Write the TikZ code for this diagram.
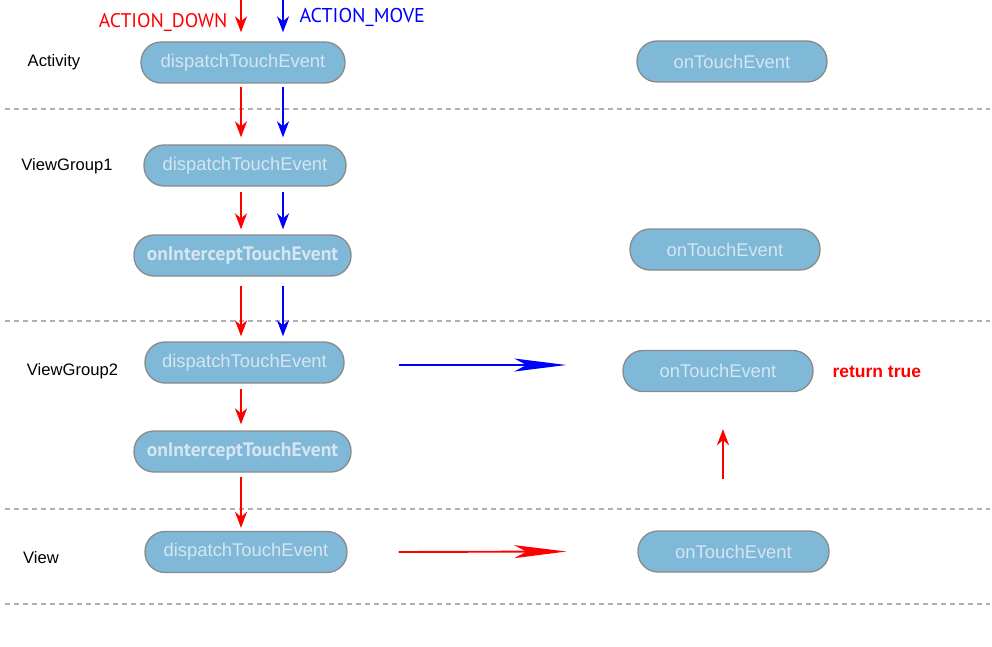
\documentclass[tikz,border=0pt]{standalone}
\usepackage{fontspec}
\setmainfont{Liberation Sans}
\newfontfamily\actfont{PT Sans}
\usetikzlibrary{arrows.meta,calc}
\definecolor{nodefill}{HTML}{80B8D8}
\definecolor{nodetext}{HTML}{D4E6F2}
\definecolor{nodeedge}{HTML}{8A8A8A}
\definecolor{dashgray}{HTML}{B0B0B0}
\definecolor{myred}{HTML}{FF0000}
\definecolor{myblue}{HTML}{0000FF}
\begin{document}
\begin{tikzpicture}[x=1pt,y=-1pt,
  method/.style={draw=nodeedge,line width=1.3pt,fill=nodefill,rounded corners=20pt,
    text=nodetext,font=\fontsize{18.4}{20}\selectfont,minimum height=41pt,inner sep=0pt},
  boldmethod/.style={method,font=\actfont\bfseries\fontsize{19.5}{20}\selectfont},
  layer/.style={font=\fontsize{16.6}{18}\selectfont,text=black},
  sep/.style={draw=dashgray,line width=1.1pt,dash pattern=on 5pt off 4pt},
  vred/.style={draw=myred,line width=1.9pt,-{Stealth[length=16pt,width=12pt,inset=5pt]}},
  vblue/.style={draw=myblue,line width=1.9pt,-{Stealth[length=16pt,width=12pt,inset=5pt]}},
  hred/.style={draw=myred,line width=1.9pt,-{Stealth[length=52pt,width=13pt,inset=12pt]}},
  hblue/.style={draw=myblue,line width=1.9pt,-{Stealth[length=52pt,width=13pt,inset=12pt]}},
]
\useasboundingbox (0,0) rectangle (992,647);

% separators
\draw[sep] (5,109) -- (990,109);
\draw[sep] (5,321) -- (990,321);
\draw[sep] (5,509) -- (990,509);
\draw[sep] (5,604) -- (990,604);

% layer labels
\node[layer] (lA) at (54,62) {Activity};
\node[layer] (lG1) at (67,166) {ViewGroup1};
\node[layer] (lG2) at (72.5,371) {ViewGroup2};
\node[layer] (lV) at (41,558) {View};

% nodes
\node[method,minimum width=204pt] (aD) at (243,62.5) {dispatchTouchEvent};
\node[method,minimum width=190pt] (aT) at (732,61.5) {onTouchEvent};
\node[method,minimum width=202pt] (g1D) at (245,165.5) {dispatchTouchEvent};
\node[boldmethod,minimum width=217pt] (g1I) at (242.5,255.5) {onInterceptTouchEvent};
\node[method,minimum width=190pt] (g1T) at (725,249.5) {onTouchEvent};
\node[method,minimum width=199pt] (g2D) at (244.5,362.5) {dispatchTouchEvent};
\node[boldmethod,minimum width=217pt] (g2I) at (242.5,451.5) {onInterceptTouchEvent};
\node[method,minimum width=190pt] (g2T) at (718,371) {onTouchEvent};
\node[method,minimum width=202pt] (vD) at (246,552) {dispatchTouchEvent};
\node[method,minimum width=191pt] (vT) at (733.5,551.5) {onTouchEvent};

% texts
\node[font=\actfont\fontsize{19.7}{20}\selectfont,text=myred,anchor=east] (tDown) at (231,23) {ACTION\_DOWN};
\node[font=\actfont\fontsize{20}{20}\selectfont,text=myblue,anchor=west] (tMove) at (296,17) {ACTION\_MOVE};
\node[font=\bfseries\fontsize{17.5}{18}\selectfont,text=myred,anchor=west] (ret) at (829,371.5) {return true};

% arrow columns
\coordinate (rx) at (241,0);
\coordinate (bx) at (283,0);

\draw[vred]  (rx) -- ($(aD.north -| rx)+(0,-9)$);
\draw[vblue] (bx) -- ($(aD.north -| bx)+(0,-9)$);
\draw[vred]  ($(aD.south -| rx)+(0,3)$) -- ($(g1D.north -| rx)+(0,-7)$);
\draw[vblue] ($(aD.south -| bx)+(0,3)$) -- ($(g1D.north -| bx)+(0,-7)$);
\draw[vred]  ($(g1D.south -| rx)+(0,5)$) -- ($(g1I.north -| rx)+(0,-5)$);
\draw[vblue] ($(g1D.south -| bx)+(0,5)$) -- ($(g1I.north -| bx)+(0,-5)$);
\draw[vred]  ($(g1I.south -| rx)+(0,9)$) -- ($(g2D.north -| rx)+(0,-5)$);
\draw[vblue] ($(g1I.south -| bx)+(0,9)$) -- ($(g2D.north -| bx)+(0,-5)$);
\draw[vred]  ($(g2D.south -| rx)+(0,5)$) -- ($(g2I.north -| rx)+(0,-6)$);
\draw[vred]  ($(g2I.south -| rx)+(0,4)$) -- ($(vD.north -| rx)+(0,-3)$);

% horizontal arrows
\coordinate (hb) at (0,365);
\draw[hblue] ($(g2D.east |- hb)+(54,0)$) -- ($(g2T.west |- hb)+(-56,0)$);
\draw[hred] ($(vD.east)+(51,0)$) -- ($(vT.west)+(-71,0)$);
% up arrow
\coordinate (upS) at (723,479);
\draw[vred] (upS) -- ($(g2T.south -| upS)+(0,37)$);
\end{tikzpicture}
\end{document}
